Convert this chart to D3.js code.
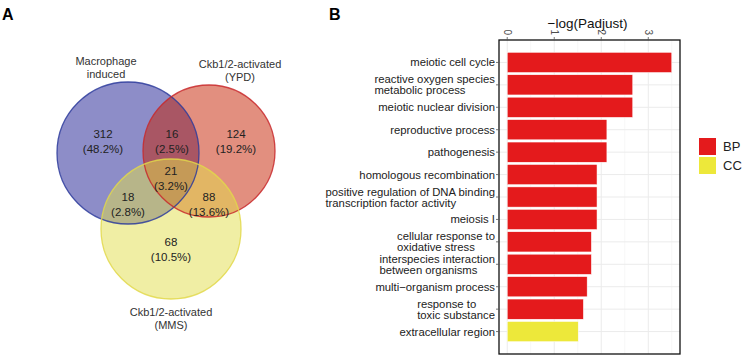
<!DOCTYPE html>
<html>
<head>
<meta charset="utf-8">
<script src="https://d3js.org/d3.v7.min.js"></script>
<style>
  body { margin: 0; background: #fff; }
  svg { font-family: "Liberation Sans", Arial, sans-serif; }
</style>
</head>
<body>
<div id="central-container"></div>
<script>
// chart size
var width = 744
var height = 362

// Venn data (panel A)
var setNames = [["Macrophage", "induced"], ["Ckb1/2-activated", "(YPD)"], ["Ckb1/2-activated", "(MMS)"]]
var regionKeys = ["A", "AB", "B", "ABC", "AC", "BC", "C"]
var regionCounts = [312, 16, 124, 21, 18, 88, 68]
var regionPercents = ["48.2%", "2.5%", "19.2%", "3.2%", "2.8%", "13.6%", "10.5%"]

// GO enrichment data (panel B)
var terms = ["meiotic cell cycle", "reactive oxygen species\nmetabolic process", "meiotic nuclear division",
  "reproductive process", "pathogenesis", "homologous recombination",
  "positive regulation of DNA binding\ntranscription factor activity", "meiosis I",
  "cellular response to\noxidative stress", "interspecies interaction\nbetween organisms",
  "multi\u2212organism process", "response to\ntoxic substance", "extracellular region"]
var negLogP = [3.50, 2.67, 2.67, 2.12, 2.12, 1.91, 1.91, 1.91, 1.79, 1.79, 1.70, 1.62, 1.51]
var ontology = ["BP", "BP", "BP", "BP", "BP", "BP", "BP", "BP", "BP", "BP", "BP", "BP", "CC"]
var ontologyLevels = ["BP", "CC"]
var xTicks = [0, 1, 2, 3]

window.onload = function () {
  var svg = d3.select("#central-container")
    .append("svg")
      .attr("width", width)
      .attr("height", height)

  // panel letters
  svg.append("text").attr("x", 2).attr("y", 20).text("A")
    .style("font-weight", "bold").style("font-size", "16px")
  svg.append("text").attr("x", 329).attr("y", 20).text("B")
    .style("font-weight", "bold").style("font-size", "16px")

  // ---------- Panel A: Venn ----------
  var circles = [
    {cx: 128, cy: 153, r: 71, fill: "rgb(28,28,145)", stroke: "#2b3a9b"},
    {cx: 209, cy: 151, r: 66, fill: "rgb(198,32,0)", stroke: "#c8282a"},
    {cx: 171, cy: 229, r: 70, fill: "rgb(226,222,74)", stroke: "#e2d84a"}
  ]
  var venn = svg.append("g")
  venn.selectAll("circle.fill")
    .data(circles)
    .enter().append("circle")
      .attr("cx", function(d){ return d.cx })
      .attr("cy", function(d){ return d.cy })
      .attr("r", function(d){ return d.r })
      .style("fill", function(d){ return d.fill })
      .style("fill-opacity", 0.5)
  venn.selectAll("circle.edge")
    .data(circles)
    .enter().append("circle")
      .attr("cx", function(d){ return d.cx })
      .attr("cy", function(d){ return d.cy })
      .attr("r", function(d){ return d.r })
      .style("fill", "none")
      .style("stroke", function(d){ return d.stroke })
      .style("stroke-width", 1.3)
      .style("stroke-opacity", 0.85)

  // where each region's label goes
  var regionPos = {
    A: [103, 134], AB: [172, 134], B: [236, 134], ABC: [171, 171],
    AC: [128, 197], BC: [209, 197], C: [171, 242]
  }
  regionKeys.forEach(function(k, i) {
    var p = regionPos[k]
    var t = venn.append("text")
      .attr("text-anchor", "middle")
      .style("font-size", "11.5px")
      .style("fill", "#222")
    t.append("tspan").attr("x", p[0]).attr("y", p[1] + 4).text(regionCounts[i])
    t.append("tspan").attr("x", p[0]).attr("y", p[1] + 19).text("(" + regionPercents[i] + ")")
  })

  var setLabelPos = [[106, 61], [240, 64], [171, 312]]
  setNames.forEach(function(lines, i) {
    var t = venn.append("text")
      .attr("text-anchor", "middle")
      .style("font-size", "11px")
      .style("fill", "#333")
    lines.forEach(function(l, j) {
      t.append("tspan").attr("x", setLabelPos[i][0]).attr("y", setLabelPos[i][1] + 4 + j * 13).text(l)
    })
  })

  // ---------- Panel B: bar chart ----------
  var plot = {left: 499, right: 680, top: 40, bottom: 354}
  var xmax = d3.max(negLogP)
  var x = d3.scaleLinear()
    .domain([-0.05 * xmax, xmax * 1.05])
    .range([plot.left, plot.right])
  var y = d3.scaleBand()
    .domain(terms)
    .range([plot.top, plot.bottom])
    .paddingInner(0.1)
    .paddingOuter(0.55)
  var color = d3.scaleOrdinal()
    .domain(ontologyLevels)
    .range(["#e41a1c", "#ede83a"])

  var g = svg.append("g")

  // grid lines
  var minor = [0.5, 1.5, 2.5, 3.5]
  g.selectAll("line.minor").data(minor).enter().append("line")
    .attr("x1", function(d){ return x(d) }).attr("x2", function(d){ return x(d) })
    .attr("y1", plot.top).attr("y2", plot.bottom)
    .style("stroke", "#f2f2f2").style("stroke-width", 0.6)
  g.selectAll("line.major").data(xTicks).enter().append("line")
    .attr("x1", function(d){ return x(d) }).attr("x2", function(d){ return x(d) })
    .attr("y1", plot.top).attr("y2", plot.bottom)
    .style("stroke", "#ebebeb").style("stroke-width", 1)
  g.selectAll("line.hgrid").data(terms).enter().append("line")
    .attr("x1", plot.left).attr("x2", plot.right)
    .attr("y1", function(d){ return y(d) + y.bandwidth() / 2 })
    .attr("y2", function(d){ return y(d) + y.bandwidth() / 2 })
    .style("stroke", "#ebebeb").style("stroke-width", 1)

  // bars
  g.selectAll("rect.bar")
    .data(terms)
    .enter().append("rect")
      .attr("x", x(0))
      .attr("y", function(d){ return y(d) })
      .attr("width", function(d, i){ return x(negLogP[i]) - x(0) })
      .attr("height", y.bandwidth())
      .style("fill", function(d, i){ return color(ontology[i]) })
      .style("stroke", "#fff")
      .style("stroke-width", 0.5)

  // frame
  g.append("rect")
    .attr("x", plot.left).attr("y", plot.top)
    .attr("width", plot.right - plot.left).attr("height", plot.bottom - plot.top)
    .style("fill", "none").style("stroke", "#111").style("stroke-width", 1.3)

  // top axis ticks + rotated labels
  g.selectAll("line.xtick").data(xTicks).enter().append("line")
    .attr("x1", function(d){ return x(d) }).attr("x2", function(d){ return x(d) })
    .attr("y1", plot.top - 3).attr("y2", plot.top)
    .style("stroke", "#555").style("stroke-width", 0.8)
  g.selectAll("text.xtick").data(xTicks).enter().append("text")
    .attr("transform", function(d){ return "translate(" + x(d) + "," + (plot.top - 5) + ") rotate(90)" })
    .attr("text-anchor", "end")
    .attr("dy", "0.35em")
    .style("font-size", "10px")
    .style("fill", "#4d4d4d")
    .text(function(d){ return d })
  svg.append("text")
    .attr("x", (plot.left + plot.right) / 2 - 2)
    .attr("y", 28)
    .attr("text-anchor", "middle")
    .style("font-size", "13.5px")
    .style("fill", "#111")
    .text("\u2212log(Padjust)")

  // y ticks + labels
  g.selectAll("line.ytick").data(terms).enter().append("line")
    .attr("x1", plot.left - 3).attr("x2", plot.left)
    .attr("y1", function(d){ return y(d) + y.bandwidth() / 2 })
    .attr("y2", function(d){ return y(d) + y.bandwidth() / 2 })
    .style("stroke", "#555").style("stroke-width", 0.8)

  terms.forEach(function(term) {
    var lines = term.split("\n")
    var cy = y(term) + y.bandwidth() / 2
    var t = g.append("text")
      .style("font-size", "11.3px")
      .style("fill", "#222")
    lines.forEach(function(l, j) {
      t.append("tspan")
        .attr("y", cy + 4 + (j - (lines.length - 1) / 2) * 11)
        .text(l)
    })
    // block is right aligned, lines inside it left aligned
    var w = 0
    t.selectAll("tspan").each(function(){ w = Math.max(w, this.getComputedTextLength()) })
    t.selectAll("tspan").attr("x", plot.left - 4 - w)
  })

  // legend
  var leg = svg.append("g")
  ontologyLevels.forEach(function(lv, i) {
    leg.append("rect")
      .attr("x", 699).attr("y", 138 + i * 19)
      .attr("width", 17).attr("height", 17)
      .style("fill", color(lv))
    leg.append("text")
      .attr("x", 723).attr("y", 151 + i * 19)
      .style("font-size", "13px")
      .style("fill", "#222")
      .text(lv)
  })
}
</script>
</body>
</html>
